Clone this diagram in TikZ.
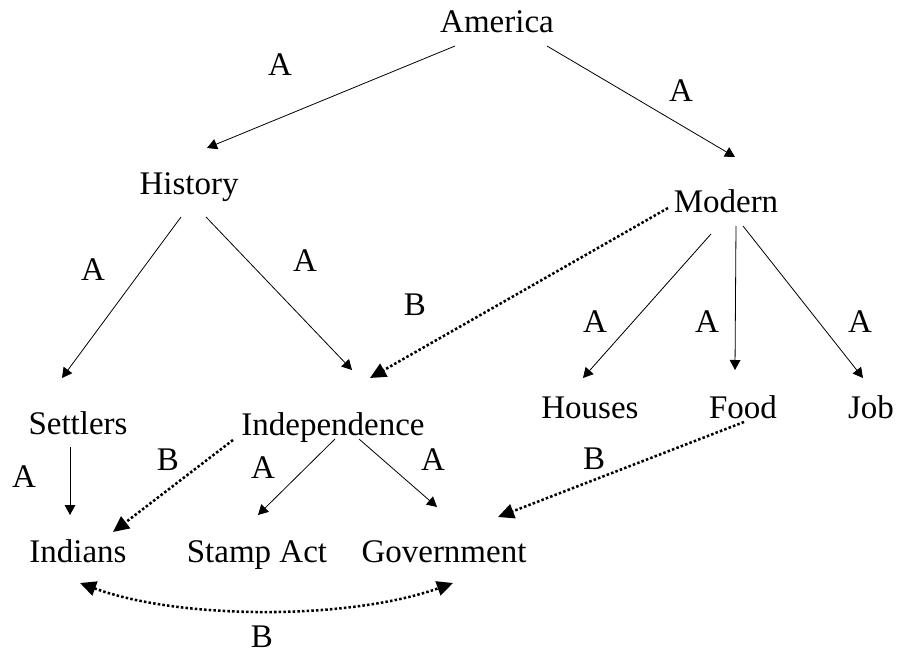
\documentclass[tikz,border=0pt]{standalone}
\usepackage{fontspec}
\setmainfont{Liberation Serif}
\usetikzlibrary{arrows.meta,calc}
\tikzset{
  lbl/.style={anchor=base,inner sep=0pt,font=\fontsize{24.75pt}{30pt}\selectfont},
  arr/.style={line width=0.6pt,-{Triangle[length=7.5pt,width=8pt]}},
  dotarr/.style={line width=1.9pt,dash pattern=on 1.9pt off 1.6pt,-{Triangle[length=12pt,width=11pt]}},
  dotarrs/.style={line width=1.9pt,dash pattern=on 1.9pt off 1.6pt,{Triangle[length=12pt,width=11pt]}-{Triangle[length=12pt,width=11pt]}}
}
\begin{document}
\begin{tikzpicture}[x=0.75pt,y=-0.75pt]
\fill[white] (0,0) rectangle (900,656);
\useasboundingbox (0,0) rectangle (900,656);
% nodes
\node[lbl] (america) at (497,33) {America};
\node[lbl] (history) at (189,195) {History};
\node[lbl] (modern) at (726,213) {Modern};
\node[lbl] (settlers) at (78,434) {Settlers};
\node[lbl] (indep) at (333,435) {Independence};
\node[lbl] (houses) at (590,418) {Houses};
\node[lbl] (food) at (743,418) {Food};
\node[lbl] (job) at (871,418) {Job};
\node[lbl] (indians) at (78,562) {Indians};
\node[lbl] (stamp) at (257,562) {Stamp Act};
\node[lbl] (gov) at (444,562) {Government};
% labels
\node[lbl] (l1) at (280,76) {A};
\node[lbl] (l2) at (681,102) {A};
\node[lbl] (l3) at (93,281) {A};
\node[lbl] (l4) at (305,272) {A};
\node[lbl] (l5) at (415,315) {B};
\node[lbl] (l6) at (595,332) {A};
\node[lbl] (l7) at (707,332) {A};
\node[lbl] (l8) at (860,332) {A};
\node[lbl] (l9) at (24,487) {A};
\node[lbl] (l10) at (168,470) {B};
\node[lbl] (l11) at (263,478) {A};
\node[lbl] (l12) at (433,470) {A};
\node[lbl] (l13) at (594,469) {B};
\node[lbl] (l14) at (262,647) {B};
% connectors
\draw[arr] ($(america.base)+(-42,13)$) -- ($(history.base)+(18,-47)$);
\draw[arr] ($(america.base)+(50,13)$) -- ($(modern.base)+(9,-56)$);
\draw[arr] ($(history.base)+(-8,22)$) -- ($(settlers.base)+(-16,-56)$);
\draw[arr] ($(history.base)+(17,22)$) -- ($(indep.base)+(19,-65)$);
\draw[dotarr] ($(modern.base)+(-58,-5)$) -- ($(indep.base)+(37,-57)$);
\draw[arr] ($(modern.base)+(-15,21)$) -- ($(houses.base)+(-7,-40)$);
\draw[arr] ($(modern.base)+(10,13)$) -- ($(food.base)+(-8,-48)$);
\draw[arr] ($(modern.base)+(17,13)$) -- ($(job.base)+(-8,-40)$);
\draw[arr] ($(settlers.base)+(-8,13)$) -- ($(indians.base)+(-8,-47)$);
\draw[dotarr] ($(indep.base)+(-100,5)$) -- ($(indians.base)+(35,-30)$);
\draw[arr] ($(indep.base)+(2,4)$) -- ($(stamp.base)+(1,-47)$);
\draw[arr] ($(indep.base)+(26,4)$) -- ($(gov.base)+(-7,-55)$);
\draw[dotarr] ($(food.base)+(1,4)$) -- ($(gov.base)+(54,-45)$);
\draw[dotarrs] ($(indians.base)+(2,21)$) .. controls (180,620) and (350,620) .. ($(gov.base)+(9,21)$);
\end{tikzpicture}
\end{document}
